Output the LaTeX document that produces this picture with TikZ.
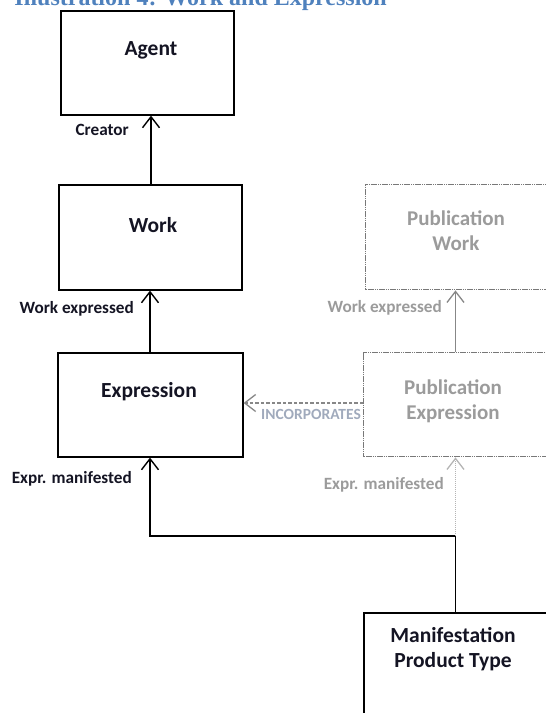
\documentclass[tikz,border=0pt]{standalone}
\usepackage{fontspec}
\setmainfont{Carlito}
\newfontfamily\headfont{Liberation Serif}
\usetikzlibrary{arrows.meta}

\definecolor{headblue}{RGB}{79,129,189}
\definecolor{inktext}{RGB}{20,20,35}
\definecolor{fadeline}{RGB}{135,135,135}
\definecolor{fadeedge}{RGB}{120,120,120}
\definecolor{fadetext}{RGB}{155,155,155}
\definecolor{fadedots}{RGB}{180,180,180}
\definecolor{incotext}{RGB}{160,170,188}

\tikzset{
  entity/.style={draw=black, line width=1.6pt, rectangle, inner sep=0pt},
  fadeentity/.style={draw=fadeedge, line width=1.4pt, dash pattern=on 1.6pt off 0.6pt, rectangle, inner sep=0pt},
  title/.style={font=\fontsize{21.5}{25}\selectfont\bfseries, text=inktext, align=center, inner sep=0pt},
  fadetitle/.style={font=\fontsize{21}{25}\selectfont\bfseries, text=fadetext, align=center, inner sep=0pt},
  rolelabel/.style={font=\fontsize{17.2}{20}\selectfont\bfseries, text=inktext, anchor=east, inner sep=0pt},
  faderole/.style={font=\fontsize{17.2}{20}\selectfont\bfseries, text=fadetext, anchor=east, inner sep=0pt},
  link/.style={draw=black, line width=1.4pt, -{Straight Barb[length=11pt,width=17pt,line width=1.4pt]}},
  fadelink/.style={draw=fadeline, line width=1.3pt, -{Straight Barb[length=11pt,width=17pt,line width=1.3pt]}},
}

\begin{document}
\begin{tikzpicture}[x=1pt,y=-1pt]
\useasboundingbox (0,0) rectangle (546,713);

% section heading, running off the top edge
\node[anchor=base east, inner sep=0pt, text=headblue, font=\headfont\fontsize{24}{28}\selectfont\bfseries] (heading) at (387,5) {Illustration 4: Work and Expression};

% main entities
\node[entity, minimum width=173pt, minimum height=104pt, anchor=north west] (agent) at (60,10) {};
\node[entity, minimum width=183pt, minimum height=105pt, anchor=north west] (work) at (58,184) {};
\node[entity, minimum width=185pt, minimum height=104pt, anchor=north west] (expr) at (57,352) {};
\node[entity, minimum width=185pt, minimum height=110pt, anchor=north west] (manif) at (363,612) {};

% publication entities (faded)
\node[fadeentity, minimum width=183pt, minimum height=105pt, anchor=north west] (pwork) at (365,184) {};
\node[fadeentity, minimum width=185pt, minimum height=104pt, anchor=north west] (pexpr) at (363,352) {};

% entity titles
\node[title] (agentT) at (151,50) {Agent};
\node[title] (workT) at (153,225) {Work};
\node[title] (exprT) at (149,392) {Expression};
\node[title, anchor=north] (manifT) at (453,627) {Manifestation\\Product Type};
\node[fadetitle, anchor=north] (pworkT) at (456,211) {Publication\\Work};
\node[fadetitle, anchor=north] (pexprT) at (453,380) {Publication\\Expression};

% relationships
\draw[link] (work.north -| 151,0) -- (agent.south -| 151,0);
\draw[link] (expr.north -| 150,0) -- (work.south -| 150,0);
\coordinate (fork) at (455.5,536);
\draw[link] (manif.north -| fork) -- (fork) -| (expr.south -| 150,0);
\draw[fadelink, draw=fadedots, dash pattern=on 1.2pt off 0.8pt] (fork) -- (pexpr.south -| fork);
\draw[fadelink] (pexpr.north -| fork) -- (pwork.south -| fork);
\draw[fadelink, line width=1.1pt, dash pattern=on 3.5pt off 2pt] (pexpr.west |- 0,403) -- (expr.east |- 0,403);

% relationship labels
\node[rolelabel] (creator) at (129,130) {Creator};
\node[rolelabel] (workexp) at (134,309) {Work expressed};
\node[rolelabel] (exprman) at (132,479) {Expr. manifested};
\node[faderole] (pworkexp) at (442,308) {Work expressed};
\node[faderole] (pexprman) at (444,485) {Expr. manifested};
\node[anchor=west, inner sep=0pt, text=incotext, font=\fontsize{15.5}{18}\selectfont\bfseries] (incorp) at (261,414) {INCORPORATES};
\end{tikzpicture}
\end{document}
